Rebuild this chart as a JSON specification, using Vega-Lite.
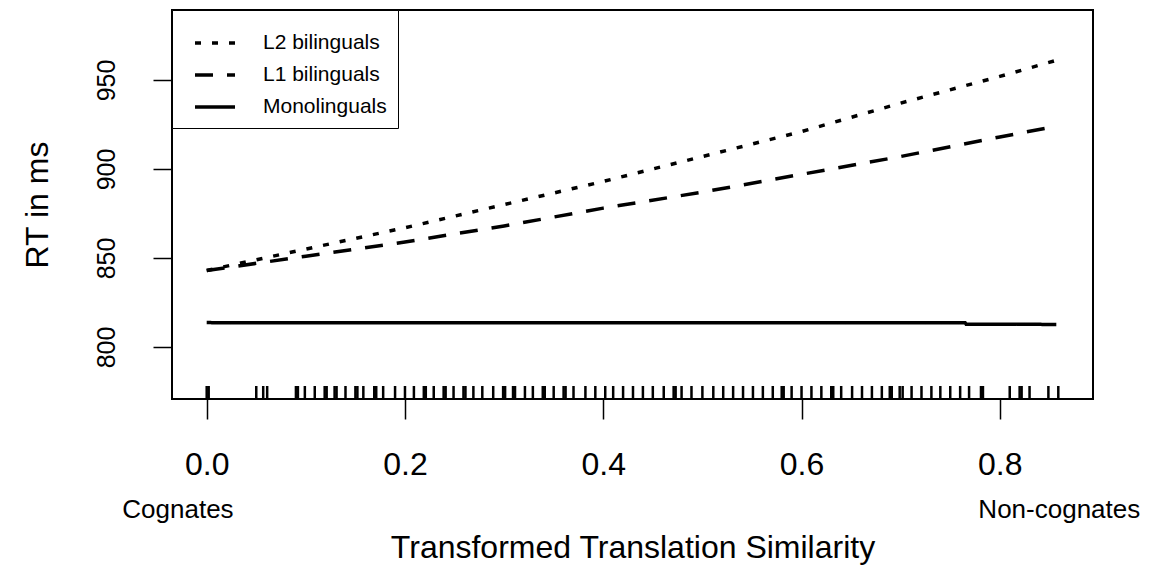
{
  "$schema": "https://vega.github.io/schema/vega-lite/v6.json",
  "width": 921,
  "height": 389,
  "autosize": {"type": "none"},
  "padding": {"left": 172, "top": 10, "right": 75, "bottom": 169},
  "background": "white",
  "config": {
    "font": "Liberation Sans",
    "view": {"stroke": "black", "strokeWidth": 2},
    "axis": {"grid": false, "domain": false, "tickColor": "black", "tickWidth": 1.5, "labelColor": "black", "titleColor": "black", "titleFontWeight": "normal", "labelFont": "Liberation Sans", "titleFont": "Liberation Sans"}
  },
  "datasets": {
    "lines": [
      {"group": "L2 bilinguals", "x": 0, "rt": 843},
      {"group": "L2 bilinguals", "x": 0.1, "rt": 855},
      {"group": "L2 bilinguals", "x": 0.2, "rt": 867},
      {"group": "L2 bilinguals", "x": 0.3, "rt": 880},
      {"group": "L2 bilinguals", "x": 0.4, "rt": 893},
      {"group": "L2 bilinguals", "x": 0.5, "rt": 907},
      {"group": "L2 bilinguals", "x": 0.6, "rt": 921},
      {"group": "L2 bilinguals", "x": 0.7, "rt": 937},
      {"group": "L2 bilinguals", "x": 0.8, "rt": 952},
      {"group": "L2 bilinguals", "x": 0.857, "rt": 961},
      {"group": "L1 bilinguals", "x": 0, "rt": 843},
      {"group": "L1 bilinguals", "x": 0.1, "rt": 851},
      {"group": "L1 bilinguals", "x": 0.2, "rt": 859},
      {"group": "L1 bilinguals", "x": 0.3, "rt": 868},
      {"group": "L1 bilinguals", "x": 0.4, "rt": 878},
      {"group": "L1 bilinguals", "x": 0.5, "rt": 887},
      {"group": "L1 bilinguals", "x": 0.6, "rt": 897},
      {"group": "L1 bilinguals", "x": 0.7, "rt": 907},
      {"group": "L1 bilinguals", "x": 0.8, "rt": 918},
      {"group": "L1 bilinguals", "x": 0.857, "rt": 924},
      {"group": "Monolinguals", "x": 0, "rt": 813.7},
      {"group": "Monolinguals", "x": 0.765, "rt": 813.6},
      {"group": "Monolinguals", "x": 0.766, "rt": 812.8},
      {"group": "Monolinguals", "x": 0.857, "rt": 812.7}
    ],
    "rug": [
      {"x": 0.000}, {"x": 0.002}, {"x": 0.050}, {"x": 0.057}, {"x": 0.061},
      {"x": 0.090}, {"x": 0.092}, {"x": 0.099}, {"x": 0.109}, {"x": 0.119}, {"x": 0.121},
      {"x": 0.129}, {"x": 0.131}, {"x": 0.140}, {"x": 0.150}, {"x": 0.152}, {"x": 0.158},
      {"x": 0.169}, {"x": 0.171}, {"x": 0.178}, {"x": 0.190}, {"x": 0.200}, {"x": 0.209},
      {"x": 0.219}, {"x": 0.221}, {"x": 0.229}, {"x": 0.239}, {"x": 0.241}, {"x": 0.249},
      {"x": 0.259}, {"x": 0.261}, {"x": 0.269}, {"x": 0.278}, {"x": 0.289}, {"x": 0.299},
      {"x": 0.301}, {"x": 0.309}, {"x": 0.311}, {"x": 0.321}, {"x": 0.329}, {"x": 0.339},
      {"x": 0.341}, {"x": 0.350}, {"x": 0.360}, {"x": 0.362}, {"x": 0.370}, {"x": 0.382},
      {"x": 0.392}, {"x": 0.402}, {"x": 0.410}, {"x": 0.420}, {"x": 0.430}, {"x": 0.440},
      {"x": 0.450}, {"x": 0.461}, {"x": 0.471}, {"x": 0.473}, {"x": 0.479}, {"x": 0.489},
      {"x": 0.500}, {"x": 0.511}, {"x": 0.521}, {"x": 0.531}, {"x": 0.541}, {"x": 0.551},
      {"x": 0.561}, {"x": 0.571}, {"x": 0.580}, {"x": 0.582}, {"x": 0.590}, {"x": 0.600},
      {"x": 0.610}, {"x": 0.620}, {"x": 0.630}, {"x": 0.632}, {"x": 0.640}, {"x": 0.651},
      {"x": 0.661}, {"x": 0.671}, {"x": 0.681}, {"x": 0.689}, {"x": 0.691}, {"x": 0.699},
      {"x": 0.702}, {"x": 0.711}, {"x": 0.721}, {"x": 0.731}, {"x": 0.740}, {"x": 0.750},
      {"x": 0.760}, {"x": 0.769}, {"x": 0.781}, {"x": 0.783}, {"x": 0.810}, {"x": 0.820},
      {"x": 0.822}, {"x": 0.830}, {"x": 0.849}, {"x": 0.859}
    ],
    "notes": [
      {"label": "Cognates", "x": -0.029},
      {"label": "Non-cognates", "x": 0.86}
    ]
  },
  "layer": [
    {
      "data": {"name": "lines"},
      "mark": {"type": "line", "color": "black", "strokeWidth": 3.5},
      "encoding": {
        "x": {
          "field": "x", "type": "quantitative",
          "scale": {"domain": [-0.035, 0.894], "nice": false, "zero": false},
          "axis": {"values": [0, 0.2, 0.4, 0.6, 0.8], "format": ".1f", "tickSize": 20, "labelFontSize": 32, "labelPadding": 30, "title": "Transformed Translation Similarity", "titleFontSize": 32, "titlePadding": 52}
        },
        "y": {
          "field": "rt", "type": "quantitative",
          "scale": {"domain": [770.8, 989.3], "nice": false, "zero": false},
          "axis": {"values": [800, 850, 900, 950], "tickSize": 19, "labelFontSize": 25, "labelAngle": -90, "labelAlign": "center", "labelBaseline": "bottom", "labelPadding": 34, "title": "RT in ms", "titleFontSize": 32, "titlePadding": 40}
        },
        "strokeDash": {
          "field": "group", "type": "nominal",
          "scale": {"domain": ["L2 bilinguals", "L1 bilinguals", "Monolinguals"], "range": [[6, 11], [18, 14], [1, 0]]},
          "legend": {
            "title": null, "orient": "none", "legendX": 0, "legendY": 0,
            "symbolType": "stroke", "symbolSize": 1600, "symbolStrokeWidth": 3.5, "symbolStrokeColor": "black", "symbolOffset": 10,
            "labelFontSize": 21, "labelColor": "black", "labelOffset": 26, "labelFont": "Liberation Sans",
            "strokeColor": "black", "fillColor": "white", "padding": 11, "cornerRadius": 0, "rowPadding": 0
          }
        }
      }
    },
    {
      "data": {"name": "rug"},
      "mark": {"type": "rule", "color": "black", "strokeWidth": 2.5},
      "encoding": {
        "x": {"field": "x", "type": "quantitative"},
        "y": {"datum": 770.8},
        "y2": {"datum": 778.1}
      }
    },
    {
      "data": {"name": "notes"},
      "mark": {"type": "text", "color": "black", "fontSize": 26, "baseline": "middle", "align": "center", "font": "Liberation Sans"},
      "encoding": {
        "x": {"field": "x", "type": "quantitative"},
        "y": {"datum": 708.4},
        "text": {"field": "label"}
      }
    }
  ]
}
